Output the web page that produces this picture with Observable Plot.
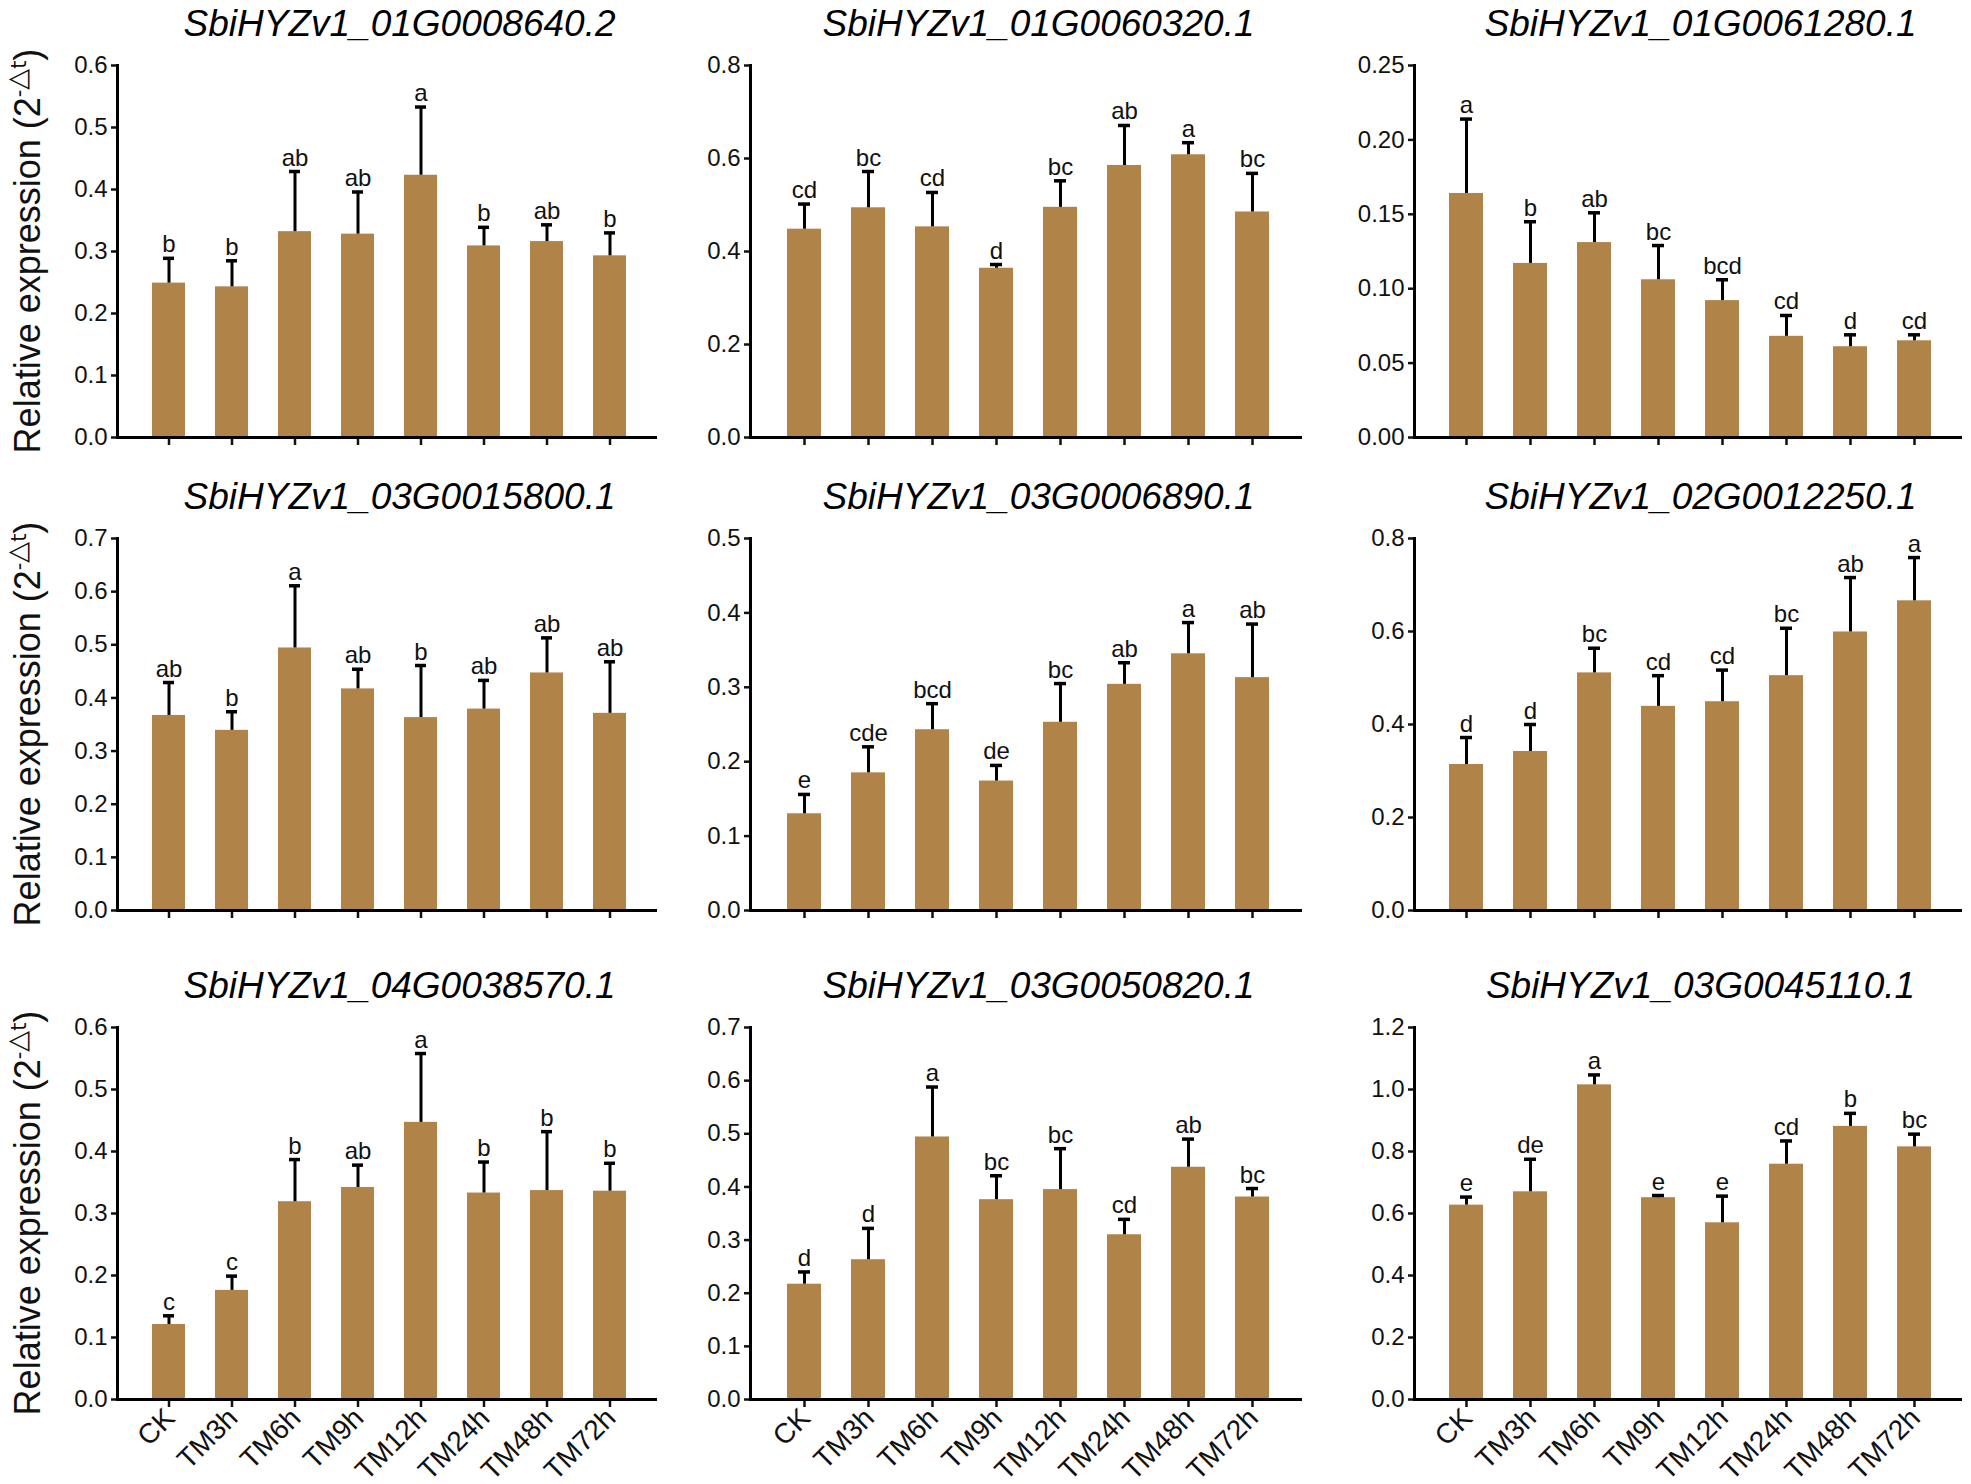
<!DOCTYPE html>
<html>
<head>
<meta charset="utf-8">
<script src="https://cdn.jsdelivr.net/npm/d3@7"></script>
<script src="https://cdn.jsdelivr.net/npm/@observablehq/plot@0.6"></script>
<style>
body { margin: 0; background: #fff; }
#fig { position: relative; width: 1971px; height: 1484px; font-family: "Liberation Sans", Arial, sans-serif; }
#fig svg { position: absolute; overflow: visible; }
.ylab {
    position: absolute; width: 500px; height: 50px; line-height: 50px;
    text-align: center; white-space: nowrap; color: #111;
    font-family: "Liberation Sans Narrow", "Liberation Sans", sans-serif; font-size: 36px;
    transform: rotate(-90deg);
}
.ylab .sup { font-family: "DejaVu Sans", sans-serif; font-size: 27px; position: relative; top: -14px; }
.ylab .sup .s { font-size: 21px; }
</style>
</head>
<body>
<div id="fig"></div>
<script>
const conditions = ["CK", "TM3h", "TM6h", "TM9h", "TM12h", "TM24h", "TM48h", "TM72h"];

const genes = [
    "SbiHYZv1_01G0008640.2", "SbiHYZv1_01G0060320.1", "SbiHYZv1_01G0061280.1",
    "SbiHYZv1_03G0015800.1", "SbiHYZv1_03G0006890.1", "SbiHYZv1_02G0012250.1",
    "SbiHYZv1_04G0038570.1", "SbiHYZv1_03G0050820.1", "SbiHYZv1_03G0045110.1",
];

const means = [
    [0.249, 0.243, 0.332, 0.328, 0.423, 0.309, 0.316, 0.293],
    [0.448, 0.494, 0.453, 0.364, 0.495, 0.585, 0.608, 0.485],
    [0.164, 0.117, 0.131, 0.106, 0.092, 0.068, 0.061, 0.065],
    [0.367, 0.339, 0.494, 0.417, 0.363, 0.379, 0.447, 0.371],
    [0.130, 0.185, 0.243, 0.174, 0.253, 0.304, 0.345, 0.313],
    [0.314, 0.342, 0.511, 0.439, 0.449, 0.505, 0.599, 0.666],
    [0.121, 0.176, 0.319, 0.342, 0.447, 0.333, 0.337, 0.336],
    [0.217, 0.263, 0.494, 0.376, 0.395, 0.310, 0.437, 0.381],
    [0.627, 0.670, 1.015, 0.651, 0.570, 0.759, 0.881, 0.815],
];

const sds = [
    [0.040, 0.042, 0.097, 0.068, 0.110, 0.030, 0.027, 0.037],
    [0.054, 0.078, 0.074, 0.008, 0.057, 0.086, 0.026, 0.083],
    [0.050, 0.028, 0.020, 0.023, 0.014, 0.014, 0.008, 0.004],
    [0.062, 0.035, 0.117, 0.037, 0.098, 0.054, 0.066, 0.097],
    [0.026, 0.035, 0.035, 0.021, 0.052, 0.029, 0.042, 0.072],
    [0.058, 0.058, 0.053, 0.066, 0.068, 0.102, 0.117, 0.093],
    [0.014, 0.023, 0.068, 0.036, 0.111, 0.050, 0.095, 0.045],
    [0.023, 0.059, 0.094, 0.045, 0.077, 0.029, 0.053, 0.016],
    [0.026, 0.105, 0.032, 0.007, 0.086, 0.075, 0.042, 0.041],
];

const letters = [
    ["b", "b", "ab", "ab", "a", "b", "ab", "b"],
    ["cd", "bc", "cd", "d", "bc", "ab", "a", "bc"],
    ["a", "b", "ab", "bc", "bcd", "cd", "d", "cd"],
    ["ab", "b", "a", "ab", "b", "ab", "ab", "ab"],
    ["e", "cde", "bcd", "de", "bc", "ab", "a", "ab"],
    ["d", "d", "bc", "cd", "cd", "bc", "ab", "a"],
    ["c", "c", "b", "ab", "a", "b", "b", "b"],
    ["d", "d", "a", "bc", "bc", "cd", "ab", "bc"],
    ["e", "de", "a", "e", "e", "cd", "b", "bc"],
];

const yMax = [0.6, 0.8, 0.25, 0.7, 0.5, 0.8, 0.6, 0.7, 1.2];
const yStep = [0.1, 0.2, 0.05, 0.1, 0.1, 0.2, 0.1, 0.1, 0.2];
const yDigits = [1, 1, 2, 1, 1, 1, 1, 1, 1];

// layout of the 3x3 grid
const colLeft = [0, 660, 1311];
const colMarginLeft = [117, 90, 103];
const colFrame = [540, 552, 548];
const rowTop = [0, 473, 962];
const rowMarginBottom = [30, 30, 90];
const marginTop = 65;
const frameH = 372;
const barColor = "#b08449";

const fig = document.getElementById("fig");

genes.forEach((gene, i) => {
    const r = Math.floor(i / 3), c = i % 3;
    const bottomRow = r == 2;
    const rows = conditions.map((cond, j) => ({
        cond: cond,
        mean: means[i][j],
        top: means[i][j] + sds[i][j],
        letter: letters[i][j],
    }));
    const ticks = d3.range(0, yMax[i] + yStep[i] / 2, yStep[i]);
    const svg = Plot.plot({
        width: colMarginLeft[c] + colFrame[c] + 10,
        height: marginTop + frameH + rowMarginBottom[r],
        marginLeft: colMarginLeft[c],
        marginRight: 10,
        marginTop: marginTop,
        marginBottom: rowMarginBottom[r],
        style: {fontFamily: "Liberation Sans, Arial, sans-serif", color: "#111", background: "transparent"},
        x: {domain: conditions, paddingInner: 0.47, paddingOuter: 0.5, align: 0.53, axis: null},
        y: {domain: [0, yMax[i]], axis: null},
        marks: [
            Plot.barY(rows, {x: "cond", y: "mean", fill: barColor}),
            Plot.ruleX(rows, {x: "cond", y1: "mean", y2: "top", stroke: "#000", strokeWidth: 3}),
            Plot.tickY(rows, {
                x: "cond", y: "top", stroke: "#000", strokeWidth: 3.5,
                insetLeft: 11, insetRight: 11,
            }),
            Plot.text(rows, {
                x: "cond", y: "top", text: "letter",
                lineAnchor: "bottom", dy: -6, fontSize: 24, fill: "#111",
            }),
            Plot.axisY({
                ticks: ticks,
                tickFormat: d3.format("." + yDigits[i] + "f"),
                tickSize: 6, tickPadding: 4, fontSize: 24, strokeWidth: 2.5,
                label: null,
            }),
            Plot.axisX({
                tickSize: 8, strokeWidth: 2.5,
                tickFormat: () => "",
                label: null,
            }),
            bottomRow ? Plot.text(conditions, {
                x: d => d, text: d => d, frameAnchor: "bottom",
                rotate: -45, textAnchor: "end", lineAnchor: "middle",
                dy: 14, dx: 1, fontSize: 28, fill: "#111",
            }) : null,
            Plot.ruleY([0], {stroke: "#000", strokeWidth: 3}),
            Plot.frame({anchor: "left", stroke: "#000", strokeWidth: 3}),
            Plot.text([gene], {
                frameAnchor: "top", dy: -30, dx: 12, lineAnchor: "bottom",
                fontSize: 37, fontStyle: "italic", fill: "#000",
            }),
        ],
    });
    svg.style.left = colLeft[c] + "px";
    svg.style.top = rowTop[r] + "px";
    fig.appendChild(svg);

    if (c == 0) {
        const cx = 28, cy = rowTop[r] + marginTop + frameH / 2;
        const lab = document.createElement("div");
        lab.className = "ylab";
        lab.style.left = (cx - 250) + "px";
        lab.style.top = (cy - 25) + "px";
        lab.innerHTML = 'Relative expression (2<span class="sup"><span class="s">-</span>△<span class="s">t</span></span>)';
        fig.appendChild(lab);
    }
});
</script>
</body>
</html>
